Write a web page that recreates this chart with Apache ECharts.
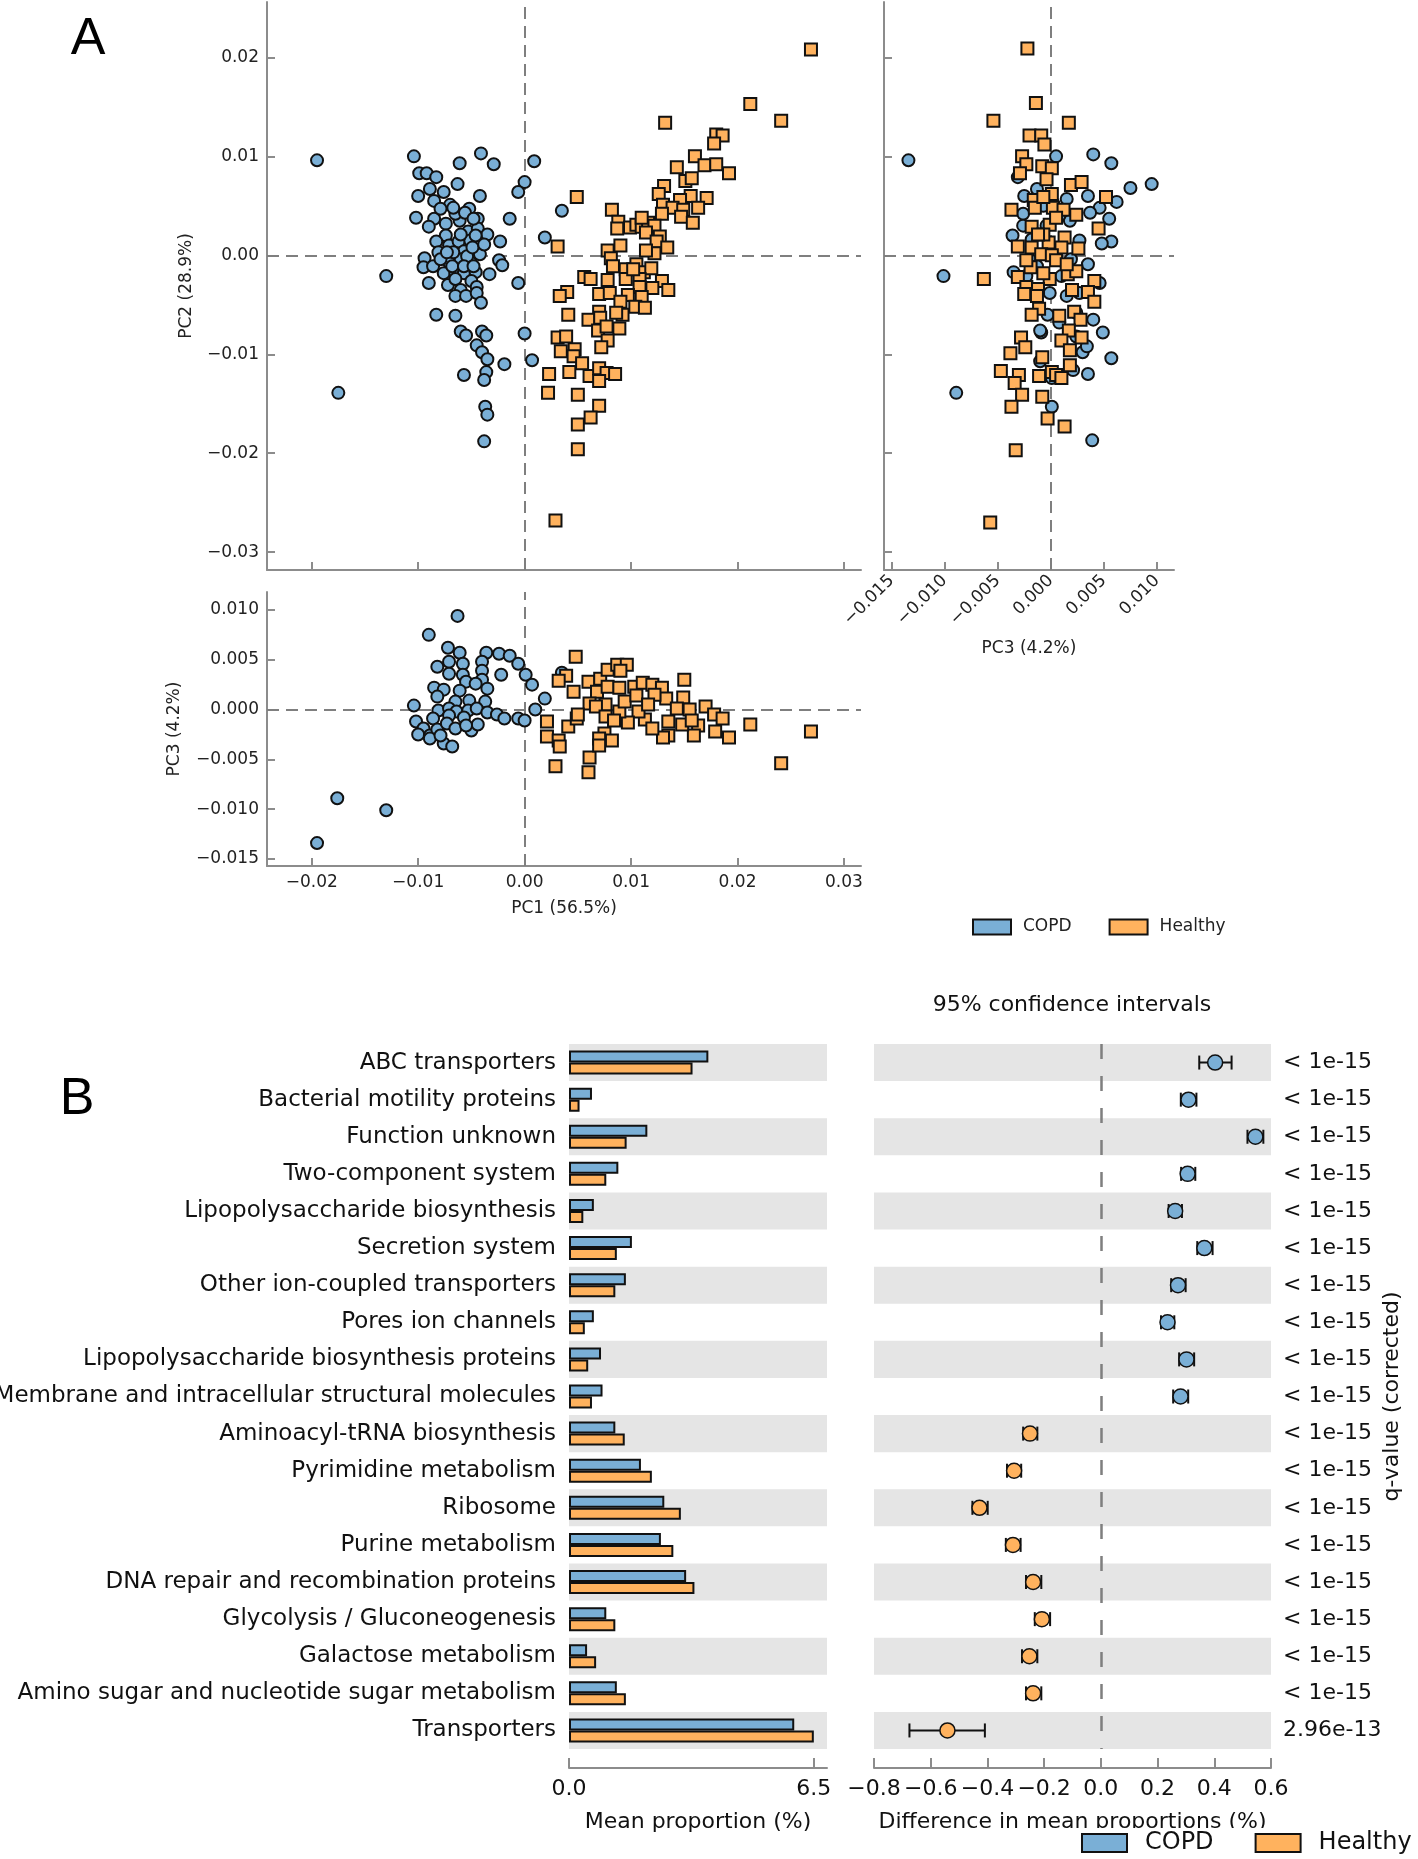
<!DOCTYPE html>
<html>
<head>
<meta charset="utf-8">
<script src="https://cdn.jsdelivr.net/npm/echarts@6/dist/echarts.min.js"></script>
<style>
  html, body { margin: 0; padding: 0; background: #fff; }
  #chart { width: 1418px; height: 1859px; }
</style>
</head>
<body>
<div id="chart"></div>
<script>
var copdPC1PC2 = [
  [-0.0195,0.0096],[-0.0104,0.0100],[-0.0041,0.0103],[-0.0061,0.0093],[-0.0029,0.0092],[0.0009,0.0095],
  [-0.0099,0.0083],[-0.0092,0.0083],[-0.0083,0.0079],[-0.0063,0.0072],[0.0000,0.0074],[-0.0006,0.0064],
  [-0.0100,0.0060],[-0.0089,0.0067],[-0.0085,0.0055],[-0.0076,0.0064],[-0.0070,0.0051],[-0.0042,0.0060],
  [-0.0052,0.0047],[-0.0102,0.0038],[-0.0085,0.0037],[-0.0090,0.0029],[-0.0074,0.0032],[-0.0061,0.0035],
  [-0.0044,0.0037],[-0.0065,0.0042],[-0.0053,0.0024],[-0.0044,0.0027],[-0.0035,0.0021],[-0.0023,0.0014],
  [-0.0014,0.0037],[-0.0074,0.0020],[-0.0083,0.0014],[-0.0071,0.0010],[-0.0062,0.0014],[-0.0051,0.0015],
  [-0.0081,0.0003],[-0.0057,0.0004],[-0.0042,0.0001],[-0.0094,-0.0003],[-0.0095,-0.0012],[-0.0086,-0.0011],
  [-0.0071,-0.0007],[-0.0060,-0.0004],[-0.0051,-0.0007],[-0.0076,-0.0018],[-0.0065,-0.0018],[-0.0057,-0.0018],
  [-0.0046,-0.0017],[-0.0033,-0.0019],[-0.0024,-0.0005],[-0.0021,-0.0010],[-0.0130,-0.0021],[-0.0090,-0.0028],
  [-0.0072,-0.0030],[-0.0065,-0.0024],[-0.0050,-0.0026],[-0.0060,-0.0035],[-0.0045,-0.0032],[-0.0065,-0.0041],
  [-0.0055,-0.0041],[-0.0045,-0.0038],[-0.0041,-0.0048],[-0.0006,-0.0028],[-0.0083,-0.0060],[-0.0065,-0.0061],
  [-0.0060,-0.0077],[-0.0055,-0.0081],[-0.0040,-0.0077],[-0.0036,-0.0081],[-0.0045,-0.0091],[-0.0040,-0.0098],
  [-0.0035,-0.0105],[-0.0019,-0.0110],[0.0000,-0.0079],[0.0007,-0.0106],[-0.0057,-0.0121],[-0.0036,-0.0118],
  [-0.0038,-0.0126],[-0.0175,-0.0139],[-0.0037,-0.0153],[-0.0035,-0.0161],[-0.0038,-0.0188],[0.0035,0.0045],
  [0.0019,0.0018],[-0.0079,0.0047],[-0.0067,0.0048],[-0.0056,0.0043],[-0.0048,0.0037],[-0.0046,0.0020],
  [-0.0067,0.0003],[-0.0054,-0.0001],[-0.0079,-0.0004],[-0.0068,-0.0011],[-0.0057,-0.0011],[-0.0048,-0.0011],
  [-0.0073,0.0003],[-0.0049,0.0008],[-0.0038,0.0011],[-0.0060,0.0021]
];
var healthyPC1PC2 = [
  [0.0269,0.0208],[0.0212,0.0153],[0.0241,0.0136],[0.0132,0.0134],[0.0180,0.0122],[0.0186,0.0121],
  [0.0178,0.0113],[0.0160,0.0100],[0.0143,0.0089],[0.0169,0.0091],[0.0180,0.0092],[0.0192,0.0083],
  [0.0151,0.0075],[0.0157,0.0078],[0.0131,0.0070],[0.0126,0.0062],[0.0156,0.0060],[0.0171,0.0058],
  [0.0049,0.0059],[0.0146,0.0056],[0.0130,0.0051],[0.0139,0.0048],[0.0149,0.0046],[0.0163,0.0048],
  [0.0082,0.0046],[0.0129,0.0042],[0.0147,0.0039],[0.0158,0.0033],[0.0088,0.0034],[0.0087,0.0027],
  [0.0099,0.0028],[0.0105,0.0031],[0.0110,0.0029],[0.0116,0.0033],[0.0122,0.0030],[0.0114,0.0023],
  [0.0127,0.0019],[0.0124,0.0014],[0.0031,0.0009],[0.0090,0.0010],[0.0078,0.0005],[0.0134,0.0008],
  [0.0122,0.0002],[0.0114,0.0005],[0.0081,-0.0003],[0.0083,-0.0011],[0.0095,-0.0014],[0.0105,-0.0009],
  [0.0112,-0.0017],[0.0119,-0.0013],[0.0056,-0.0022],[0.0062,-0.0024],[0.0078,-0.0025],[0.0095,-0.0024],
  [0.0108,-0.0024],[0.0129,-0.0026],[0.0135,-0.0035],[0.0120,-0.0033],[0.0108,-0.0032],[0.0070,-0.0039],
  [0.0080,-0.0038],[0.0040,-0.0037],[0.0033,-0.0041],[0.0097,-0.0040],[0.0110,-0.0042],[0.0090,-0.0047],
  [0.0104,-0.0052],[0.0113,-0.0053],[0.0041,-0.0060],[0.0070,-0.0057],[0.0092,-0.0060],[0.0086,-0.0058],
  [0.0060,-0.0065],[0.0071,-0.0063],[0.0089,-0.0074],[0.0069,-0.0076],[0.0077,-0.0072],[0.0031,-0.0083],
  [0.0039,-0.0082],[0.0078,-0.0086],[0.0072,-0.0093],[0.0034,-0.0097],[0.0047,-0.0095],[0.0046,-0.0102],
  [0.0054,-0.0109],[0.0023,-0.0120],[0.0042,-0.0118],[0.0061,-0.0122],[0.0070,-0.0114],[0.0077,-0.0119],
  [0.0085,-0.0120],[0.0070,-0.0127],[0.0022,-0.0139],[0.0050,-0.0141],[0.0070,-0.0152],[0.0062,-0.0164],
  [0.0050,-0.0171],[0.0050,-0.0196],[0.0029,-0.0268],[0.0110,0.0038],[0.0102,-0.0014]
];
var copdPC3PC2 = [
  [-0.0134,0.0096],[0.0040,0.0102],[0.0057,0.0093],[0.0005,0.0100],[0.0075,0.0068],[0.0095,0.0072],
  [0.0062,0.0054],[0.0035,0.0060],[0.0046,0.0048],[0.0055,0.0037],[0.0057,0.0014],[0.0048,0.0012],
  [0.0037,0.0043],[0.0035,-0.0009],[0.0046,-0.0028],[0.0049,-0.0078],[0.0057,-0.0104],[0.0035,-0.0120],
  [0.0030,-0.0098],[0.0039,-0.0187],[0.0001,-0.0153],[-0.0089,-0.0139],[-0.0101,-0.0021],[-0.0036,0.0020],
  [-0.0035,-0.0017],[-0.0009,-0.0078],[-0.0010,-0.0076],[-0.0025,0.0060],[-0.0026,0.0042],[-0.0031,0.0079],
  [-0.0013,0.0067],[0.0015,0.0057],[0.0018,0.0035],[0.0027,0.0015],[0.0019,-0.0004],[0.0010,-0.0021],
  [-0.0001,-0.0038],[0.0015,-0.0041],[0.0027,-0.0038],[-0.0003,-0.0060],[0.0008,-0.0068],[0.0024,-0.0082],
  [0.0021,-0.0116],[0.0001,-0.0124],[-0.0010,-0.0107],[-0.0020,-0.0004],[-0.0023,-0.0021],[-0.0013,-0.0011],
  [-0.0026,0.0030],[-0.0018,0.0016],[-0.0004,0.0030],[0.0008,0.0040],[0.0002,0.0053],[-0.0007,0.0050],
  [-0.0001,0.0009],[0.0015,-0.0011],[0.0024,-0.0058],[0.0040,-0.0065],[0.0034,-0.0092]
];
var healthyPC3PC2 = [
  [-0.0022,0.0209],[-0.0014,0.0154],[-0.0054,0.0136],[0.0017,0.0134],[-0.0020,0.0121],[-0.0009,0.0121],
  [-0.0006,0.0112],[-0.0027,0.0100],[-0.0023,0.0092],[-0.0029,0.0083],[-0.0008,0.0090],[0.0001,0.0088],
  [-0.0004,0.0077],[0.0019,0.0071],[0.0029,0.0074],[0.0052,0.0059],[0.0001,0.0062],[-0.0016,0.0056],
  [-0.0037,0.0046],[-0.0015,0.0048],[0.0002,0.0048],[0.0012,0.0046],[0.0024,0.0041],[0.0045,0.0027],
  [-0.0018,0.0029],[-0.0001,0.0031],[0.0013,0.0018],[-0.0002,0.0013],[-0.0031,0.0009],[-0.0018,0.0008],
  [0.0026,0.0007],[0.0010,0.0008],[-0.0009,0.0001],[0.0001,0.0000],[-0.0019,-0.0012],[-0.0031,-0.0022],
  [-0.0063,-0.0024],[-0.0001,-0.0024],[0.0016,-0.0019],[0.0024,-0.0016],[0.0041,-0.0026],[-0.0023,-0.0032],
  [-0.0012,-0.0034],[0.0020,-0.0035],[0.0035,-0.0037],[0.0041,-0.0047],[-0.0025,-0.0039],[-0.0013,-0.0041],
  [-0.0011,-0.0054],[-0.0018,-0.0060],[0.0008,-0.0061],[0.0022,-0.0057],[0.0028,-0.0065],[0.0017,-0.0076],
  [0.0010,-0.0086],[0.0029,-0.0083],[-0.0028,-0.0083],[-0.0024,-0.0093],[-0.0038,-0.0099],[0.0018,-0.0096],
  [-0.0008,-0.0103],[0.0018,-0.0111],[-0.0047,-0.0117],[-0.0030,-0.0121],[-0.0034,-0.0129],[-0.0011,-0.0122],
  [0.0001,-0.0118],[0.0005,-0.0121],[0.0010,-0.0124],[-0.0027,-0.0141],[-0.0008,-0.0143],[-0.0037,-0.0153],
  [-0.0003,-0.0165],[0.0013,-0.0173],[-0.0033,-0.0197],[-0.0057,-0.0270],[-0.0007,0.0021],[0.0005,-0.0005],
  [-0.0012,0.0021],[0.0005,0.0038],[0.0015,-0.0009],[-0.0007,-0.0018],[-0.0007,0.0059],[-0.0023,-0.0005]
];
var copdPC1PC3 = [
  [-0.0063,0.0094],[-0.0090,0.0075],[-0.0072,0.0062],[-0.0061,0.0057],[-0.0036,0.0057],[-0.0024,0.0056],
  [-0.0014,0.0054],[-0.0006,0.0046],[0.0001,0.0035],[0.0007,0.0025],[0.0019,0.0011],[0.0010,0.0000],
  [-0.0022,0.0035],[-0.0040,0.0048],[-0.0071,0.0048],[-0.0082,0.0043],[-0.0071,0.0036],[-0.0058,0.0046],
  [-0.0058,0.0035],[-0.0040,0.0039],[-0.0040,0.0030],[-0.0055,0.0028],[-0.0085,0.0022],[-0.0076,0.0020],
  [-0.0061,0.0019],[-0.0046,0.0026],[-0.0035,0.0021],[-0.0082,0.0013],[-0.0065,0.0008],[-0.0052,0.0009],
  [-0.0037,0.0008],[-0.0104,0.0004],[-0.0081,-0.0001],[-0.0071,0.0001],[-0.0064,-0.0002],[-0.0053,-0.0001],
  [-0.0045,0.0001],[-0.0035,-0.0003],[-0.0026,-0.0005],[-0.0019,-0.0009],[-0.0006,-0.0009],[0.0000,-0.0011],
  [-0.0102,-0.0012],[-0.0086,-0.0009],[-0.0071,-0.0006],[-0.0057,-0.0008],[-0.0095,-0.0019],[-0.0100,-0.0025],
  [-0.0089,-0.0026],[-0.0082,-0.0020],[-0.0073,-0.0014],[-0.0065,-0.0019],[-0.0076,-0.0034],[-0.0068,-0.0037],
  [-0.0050,-0.0021],[-0.0044,-0.0015],[-0.0089,-0.0029],[-0.0079,-0.0026],[-0.0055,-0.0016],[-0.0176,-0.0089],
  [-0.0130,-0.0101],[-0.0195,-0.0134],[0.0035,0.0037]
];
var healthyPC1PC3 = [
  [0.0048,0.0053],[0.0039,0.0034],[0.0032,0.0029],[0.0021,-0.0012],[0.0021,-0.0027],[0.0032,-0.0031],
  [0.0033,-0.0037],[0.0029,-0.0057],[0.0060,-0.0063],[0.0061,-0.0048],[0.0041,-0.0017],[0.0049,-0.0009],
  [0.0046,0.0018],[0.0060,0.0028],[0.0068,0.0018],[0.0061,0.0006],[0.0071,0.0031],[0.0078,0.0040],
  [0.0087,0.0045],[0.0096,0.0045],[0.0090,0.0039],[0.0078,0.0023],[0.0089,0.0022],[0.0103,0.0023],
  [0.0111,0.0027],[0.0120,0.0025],[0.0129,0.0022],[0.0133,0.0011],[0.0150,0.0030],[0.0149,0.0012],
  [0.0155,0.0000],[0.0143,0.0001],[0.0170,0.0003],[0.0178,-0.0005],[0.0186,-0.0009],[0.0212,-0.0015],
  [0.0192,-0.0028],[0.0179,-0.0022],[0.0163,-0.0016],[0.0159,-0.0026],[0.0148,-0.0015],[0.0135,-0.0012],
  [0.0135,-0.0026],[0.0130,-0.0028],[0.0113,-0.0010],[0.0107,-0.0002],[0.0097,-0.0013],[0.0089,-0.0002],
  [0.0076,0.0005],[0.0067,0.0003],[0.0076,-0.0007],[0.0084,-0.0011],[0.0075,-0.0024],[0.0082,-0.0031],
  [0.0070,-0.0029],[0.0070,-0.0036],[0.0094,0.0008],[0.0122,0.0015],[0.0241,-0.0054],[0.0269,-0.0022],
  [0.0050,-0.0005],[0.0105,0.0014],[0.0116,0.0005],[0.0157,-0.0011],[0.0120,-0.0019]
];
var pc1Ticks = [-0.02, -0.01, 0, 0.01, 0.02, 0.03];
var pc2Ticks = [-0.03, -0.02, -0.01, 0, 0.01, 0.02];
var pc3Ticks = [-0.015, -0.01, -0.005, 0, 0.005, 0.01];

// ---- panel B : mean proportions and 95% CI of the difference ----
var functions = [
  'ABC transporters', 'Bacterial motility proteins', 'Function unknown', 'Two-component system',
  'Lipopolysaccharide biosynthesis', 'Secretion system', 'Other ion-coupled transporters',
  'Pores ion channels', 'Lipopolysaccharide biosynthesis proteins',
  'Membrane and intracellular structural molecules', 'Aminoacyl-tRNA biosynthesis',
  'Pyrimidine metabolism', 'Ribosome', 'Purine metabolism', 'DNA repair and recombination proteins',
  'Glycolysis / Gluconeogenesis', 'Galactose metabolism', 'Amino sugar and nucleotide sugar metabolism',
  'Transporters'
];
var copdMean    = [3.70, 0.61, 2.08, 1.31, 0.66, 1.67, 1.51, 0.66, 0.85, 0.89, 1.23, 1.91, 2.53, 2.44, 3.11, 0.99, 0.48, 1.27, 5.98];
var healthyMean = [3.28, 0.28, 1.53, 0.99, 0.38, 1.27, 1.23, 0.42, 0.51, 0.61, 1.48, 2.20, 2.97, 2.77, 3.33, 1.23, 0.72, 1.51, 6.50];
var diffMean = [0.403, 0.309, 0.545, 0.306, 0.262, 0.365, 0.272, 0.235, 0.302, 0.281, -0.250, -0.306, -0.428, -0.310, -0.239, -0.208, -0.252, -0.239, -0.541];
var ciLow    = [0.347, 0.282, 0.517, 0.283, 0.239, 0.340, 0.248, 0.212, 0.276, 0.255, -0.274, -0.331, -0.453, -0.335, -0.264, -0.233, -0.278, -0.264, -0.675];
var ciHigh   = [0.461, 0.337, 0.573, 0.333, 0.286, 0.394, 0.299, 0.259, 0.329, 0.308, -0.224, -0.281, -0.399, -0.283, -0.210, -0.179, -0.224, -0.210, -0.409];
var qValues = [
  '< 1e-15', '< 1e-15', '< 1e-15', '< 1e-15', '< 1e-15', '< 1e-15', '< 1e-15', '< 1e-15', '< 1e-15', '< 1e-15',
  '< 1e-15', '< 1e-15', '< 1e-15', '< 1e-15', '< 1e-15', '< 1e-15', '< 1e-15', '< 1e-15', '2.96e-13'
];
var meanTicks = [0, 6.5];

var BLUE = '#7aafd6';
var ORANGE = '#ffb25e';
var EDGE = '#111111';
var GRAY = '#8c8c8c';
var FONT = 'DejaVu Sans';

// tick text with a real minus sign
function fmt(dec) {
  return function (v) {
    var s = Math.abs(v).toFixed(dec);
    return (v < 0 && Math.abs(v) > 1e-9) ? '\u2212' + s : s;
  };
}

// value axis of the PCoA panels: grey spine, inward ticks
function pcAxis(grid, min, max, ticks, labels, dec, rotate, extra) {
  var ax = {
    gridIndex: grid, type: 'value', min: min, max: max,
    axisLine: { show: true, onZero: false, lineStyle: { color: GRAY, width: 2 } },
    axisTick: { show: true, inside: true, length: 8, customValues: ticks, lineStyle: { color: GRAY, width: 2 } },
    axisLabel: { show: labels, customValues: ticks, formatter: fmt(dec), rotate: rotate, fontSize: 17, color: '#222', margin: 8 },
    splitLine: { show: false },
    nameTextStyle: { fontSize: 17, color: '#222' },
    nameMoveOverlap: false
  };
  for (var k in extra) ax[k] = extra[k];
  return ax;
}

function zeroLines() {
  return {
    silent: true, z: 1, symbol: ['none', 'none'], label: { show: false },
    lineStyle: { color: '#7f7f7f', width: 2, type: [12, 7] },
    data: [{ xAxis: 0 }, { yAxis: 0 }]
  };
}

function pcSeries(name, grid, data, withLines) {
  var isCopd = name === 'COPD';
  var s = {
    type: 'scatter', name: name, xAxisIndex: grid, yAxisIndex: grid, data: data,
    symbol: isCopd ? 'circle' : 'rect', symbolSize: 12, z: 2,
    itemStyle: { color: isCopd ? BLUE : ORANGE, borderColor: EDGE, borderWidth: 2, opacity: 1 }
  };
  if (withLines) s.markLine = zeroLines();
  return s;
}

// horizontal error bar with end caps, data item = [low, row, high]
function errorBarItem(params, api) {
  var row = api.value(1);
  var a = api.coord([api.value(0), row]);
  var b = api.coord([api.value(2), row]);
  var h = 7;
  var st = { stroke: EDGE, lineWidth: 2 };
  return {
    type: 'group',
    children: [
      { type: 'line', shape: { x1: a[0], y1: a[1], x2: b[0], y2: b[1] }, style: st },
      { type: 'line', shape: { x1: a[0], y1: a[1] - h, x2: a[0], y2: a[1] + h }, style: st },
      { type: 'line', shape: { x1: b[0], y1: b[1] - h, x2: b[0], y2: b[1] + h }, style: st }
    ]
  };
}

var option = {
  animation: false,
  backgroundColor: '#fff',
  textStyle: { fontFamily: FONT },
  grid: [
    { left: 267, top: 2, width: 594, height: 568, outerBoundsMode: 'none' },
    { left: 884, top: 2, width: 290, height: 568, outerBoundsMode: 'none' },
    { left: 267, top: 592, width: 594, height: 274, outerBoundsMode: 'none' },
    { left: 569, top: 1044, width: 258, height: 705, outerBoundsMode: 'none' },
    { left: 874, top: 1044, width: 397, height: 705, outerBoundsMode: 'none' }
  ],
  xAxis: [
    pcAxis(0, -0.0242, 0.0316, pc1Ticks, false, 2, 0, {}),
    pcAxis(1, -0.0157, 0.0116, pc3Ticks, true, 3, 45, {
      name: 'PC3 (4.2%)', nameLocation: 'middle', nameGap: 70
    }),
    pcAxis(2, -0.0242, 0.0316, pc1Ticks, true, 2, 0, {
      name: 'PC1 (56.5%)', nameLocation: 'middle', nameGap: 34
    }),
    {
      gridIndex: 3, type: 'value', min: 0, max: 6.85, offset: 19,
      axisLine: { show: true, onZero: false, lineStyle: { color: GRAY, width: 2 } },
      axisTick: { show: true, inside: true, length: 10, customValues: meanTicks, lineStyle: { color: GRAY, width: 2 } },
      axisLabel: { customValues: meanTicks, formatter: fmt(1), fontSize: 22, color: '#111', margin: 10 },
      splitLine: { show: false },
      name: 'Mean proportion (%)', nameLocation: 'middle', nameGap: 43, nameMoveOverlap: false,
      nameTextStyle: { fontSize: 22, color: '#111' }
    },
    {
      gridIndex: 4, type: 'value', min: -0.8, max: 0.6, interval: 0.2, offset: 19,
      axisLine: { show: true, onZero: false, lineStyle: { color: GRAY, width: 2 } },
      axisTick: { show: true, inside: true, length: 10, lineStyle: { color: GRAY, width: 2 } },
      axisLabel: { formatter: fmt(1), fontSize: 22, color: '#111', margin: 10 },
      splitLine: { show: false },
      name: 'Difference in mean proportions (%)', nameLocation: 'middle', nameGap: 43, nameMoveOverlap: false,
      nameTextStyle: { fontSize: 22, color: '#111' }
    }
  ],
  yAxis: [
    pcAxis(0, -0.0318, 0.0256, pc2Ticks, true, 2, 0, {
      name: 'PC2 (28.9%)', nameLocation: 'middle', nameGap: 72, nameRotate: 90
    }),
    pcAxis(1, -0.0318, 0.0256, pc2Ticks, false, 2, 0, {}),
    pcAxis(2, -0.0157, 0.0118, pc3Ticks, true, 3, 0, {
      name: 'PC3 (4.2%)', nameLocation: 'middle', nameGap: 84, nameRotate: 90
    }),
    {
      gridIndex: 3, type: 'category', data: functions, inverse: true,
      axisLine: { show: false, onZero: false }, axisTick: { show: false },
      axisLabel: { fontSize: 23, color: '#111', margin: 13 },
      splitArea: { show: true, areaStyle: { color: ['#e5e5e5', 'rgba(255,255,255,0)'] } }
    },
    {
      gridIndex: 4, type: 'category', data: functions, inverse: true, position: 'right',
      axisLine: { show: false, onZero: false }, axisTick: { show: false },
      axisLabel: {
        fontSize: 22, color: '#111', margin: 12,
        formatter: function (v, i) { return qValues[i]; }
      },
      splitArea: { show: true, areaStyle: { color: ['#e5e5e5', 'rgba(255,255,255,0)'] } },
      name: 'q-value (corrected)', nameLocation: 'middle', nameRotate: 90, nameGap: 110,
      nameMoveOverlap: false, nameTextStyle: { fontSize: 22, color: '#111' }
    }
  ],
  legend: [
    {
      data: ['COPD', 'Healthy'], left: 972, top: 917, padding: 0, icon: 'rect',
      itemWidth: 38, itemHeight: 15, itemGap: 37, selectedMode: false,
      itemStyle: { borderColor: EDGE, borderWidth: 2 },
      textStyle: { fontSize: 17, color: '#222', lineHeight: 20, padding: [0, 0, 0, 7] }
    },
    {
      data: ['COPD', 'Healthy'], left: 1081, top: 1830, padding: 0, icon: 'rect', z: 200,
      itemWidth: 45, itemHeight: 18, itemGap: 41, selectedMode: false,
      itemStyle: { borderColor: EDGE, borderWidth: 2 },
      textStyle: { fontSize: 24, color: '#111', lineHeight: 26, padding: [0, 0, 0, 13] }
    }
  ],
  graphic: [
    { type: 'text', x: 88, y: 40, style: { text: 'A', font: '52px "Liberation Sans"', fill: '#000', align: 'center', verticalAlign: 'middle' } },
    { type: 'text', x: 77, y: 1100, style: { text: 'B', font: '52px "Liberation Sans"', fill: '#000', align: 'center', verticalAlign: 'middle' } },
    { type: 'text', x: 1072, y: 1005, style: { text: '95% confidence intervals', font: '22px "DejaVu Sans"', fill: '#111', align: 'center', verticalAlign: 'middle' } },
    // the bottom legend box hides the lower part of the x-axis title, as in the original
    { type: 'rect', z: 100, shape: { x: 860, y: 1828, width: 558, height: 31 }, style: { fill: '#fff' } }
  ],
  series: [
    pcSeries('COPD', 0, copdPC1PC2, true),
    pcSeries('Healthy', 0, healthyPC1PC2, false),
    pcSeries('COPD', 1, copdPC3PC2, true),
    pcSeries('Healthy', 1, healthyPC3PC2, false),
    pcSeries('COPD', 2, copdPC1PC3, true),
    pcSeries('Healthy', 2, healthyPC1PC3, false),
    {
      type: 'bar', name: 'COPD', xAxisIndex: 3, yAxisIndex: 3, data: copdMean,
      barWidth: 12, barGap: '0%',
      itemStyle: { color: BLUE, borderColor: EDGE, borderWidth: 2 }
    },
    {
      type: 'bar', name: 'Healthy', xAxisIndex: 3, yAxisIndex: 3, data: healthyMean,
      barWidth: 12, barGap: '0%',
      itemStyle: { color: ORANGE, borderColor: EDGE, borderWidth: 2 }
    },
    {
      type: 'custom', name: 'ci', xAxisIndex: 4, yAxisIndex: 4, z: 2,
      data: functions.map(function (f, i) { return [ciLow[i], i, ciHigh[i]]; }),
      renderItem: errorBarItem
    },
    {
      type: 'scatter', name: 'diff', xAxisIndex: 4, yAxisIndex: 4, z: 3, symbolSize: 15,
      data: diffMean.map(function (d, i) {
        return { value: [d, i], itemStyle: { color: d > 0 ? BLUE : ORANGE } };
      }),
      itemStyle: { borderColor: EDGE, borderWidth: 1.5, opacity: 1 },
      markLine: {
        silent: true, z: 1, symbol: ['none', 'none'], label: { show: false },
        lineStyle: { color: '#7f7f7f', width: 2.5, type: [15, 17] },
        data: [{ xAxis: 0 }]
      }
    }
  ]
};

var chart = echarts.init(document.getElementById('chart'));
chart.setOption(option);
</script>
</body>
</html>
